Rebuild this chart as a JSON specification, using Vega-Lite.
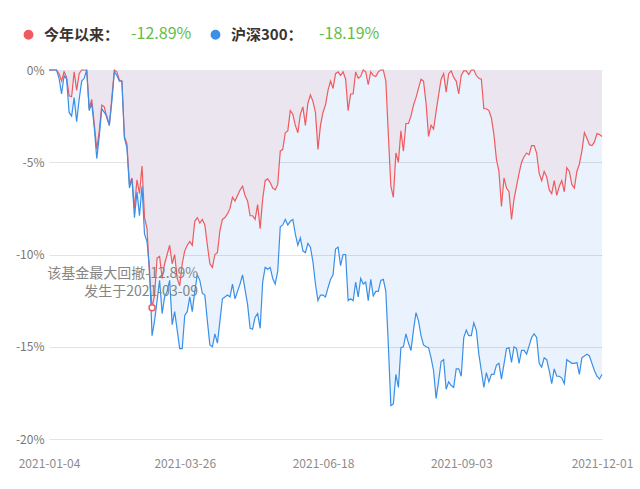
{
  "$schema": "https://vega.github.io/schema/vega-lite/v6.json",
  "width": 553,
  "height": 369,
  "autosize": {"type": "none"},
  "padding": {"left": 49, "top": 70, "right": 38, "bottom": 50},
  "background": "#ffffff",
  "config": {"view": {"stroke": null}, "font": "Noto Sans CJK SC"},
  "data": {"values": [
{"d":"2021-01-04","今年以来":0,"沪深300":0},
{"d":"2021-01-05","今年以来":0,"沪深300":0},
{"d":"2021-01-06","今年以来":0,"沪深300":0},
{"d":"2021-01-07","今年以来":0,"沪深300":0},
{"d":"2021-01-08","今年以来":-0.2,"沪深300":-0.45},
{"d":"2021-01-11","今年以来":-0.6,"沪深300":-1.3},
{"d":"2021-01-12","今年以来":-0.1,"沪深300":-0.3},
{"d":"2021-01-13","今年以来":-0.4,"沪深300":-0.5},
{"d":"2021-01-14","今年以来":-1.4,"沪深300":-2.3},
{"d":"2021-01-15","今年以来":-1.45,"沪深300":-2.5},
{"d":"2021-01-18","今年以来":-0.1,"沪深300":-1.5},
{"d":"2021-01-19","今年以来":-1.1,"沪深300":-2.8},
{"d":"2021-01-20","今年以来":-0.2,"沪深300":-1.6},
{"d":"2021-01-21","今年以来":0,"沪深300":-0.6},
{"d":"2021-01-22","今年以来":0,"沪深300":-0.45},
{"d":"2021-01-25","今年以来":0,"沪深300":0},
{"d":"2021-01-26","今年以来":-2.1,"沪深300":-2.2},
{"d":"2021-01-27","今年以来":-1.6,"沪深300":-1.8},
{"d":"2021-01-28","今年以来":-2.9,"沪深300":-3.1},
{"d":"2021-01-29","今年以来":-4.3,"沪深300":-4.8},
{"d":"2021-02-01","今年以来":-3.3,"沪深300":-3.6},
{"d":"2021-02-02","今年以来":-1.9,"沪深300":-2.1},
{"d":"2021-02-03","今年以来":-2.0,"沪深300":-2.3},
{"d":"2021-02-04","今年以来":-2.6,"沪深300":-2.5},
{"d":"2021-02-05","今年以来":-3.0,"沪深300":-3.0},
{"d":"2021-02-08","今年以来":-1.5,"沪深300":-1.7},
{"d":"2021-02-09","今年以来":0,"沪深300":-0.1},
{"d":"2021-02-10","今年以来":-0.1,"沪深300":-0.3},
{"d":"2021-02-18","今年以来":-0.55,"沪深300":-0.6},
{"d":"2021-02-19","今年以来":-0.6,"沪深300":-0.6},
{"d":"2021-02-22","今年以来":-3.6,"沪深300":-3.7},
{"d":"2021-02-23","今年以来":-4.0,"沪深300":-4.2},
{"d":"2021-02-24","今年以来":-6.2,"沪深300":-6.4},
{"d":"2021-02-25","今年以来":-5.85,"沪深300":-5.9},
{"d":"2021-02-26","今年以来":-7.5,"沪深300":-8.0},
{"d":"2021-03-01","今年以来":-5.95,"沪深300":-6.6},
{"d":"2021-03-02","今年以来":-6.7,"沪深300":-7.9},
{"d":"2021-03-03","今年以来":-5.2,"沪深300":-6.3},
{"d":"2021-03-04","今年以来":-8.0,"沪深300":-8.9},
{"d":"2021-03-05","今年以来":-8.6,"沪深300":-9.3},
{"d":"2021-03-08","今年以来":-11.2,"沪深300":-10.8},
{"d":"2021-03-09","今年以来":-12.89,"沪深300":-14.4},
{"d":"2021-03-10","今年以来":-12.2,"沪深300":-13.6},
{"d":"2021-03-11","今年以来":-10.2,"沪深300":-12.5},
{"d":"2021-03-12","今年以来":-10.1,"沪深300":-11.4},
{"d":"2021-03-15","今年以来":-11.3,"沪深300":-13.2},
{"d":"2021-03-16","今年以来":-10.5,"沪深300":-12.3},
{"d":"2021-03-17","今年以来":-10.0,"沪深300":-12.0},
{"d":"2021-03-18","今年以来":-9.5,"沪深300":-11.4},
{"d":"2021-03-19","今年以来":-10.5,"沪深300":-13.8},
{"d":"2021-03-22","今年以来":-10.0,"沪深300":-13.1},
{"d":"2021-03-23","今年以来":-11.3,"沪深300":-14.1},
{"d":"2021-03-24","今年以来":-11.7,"沪深300":-15.1},
{"d":"2021-03-25","今年以来":-10.5,"沪深300":-15.1},
{"d":"2021-03-26","今年以来":-9.8,"沪深300":-13.3},
{"d":"2021-03-29","今年以来":-9.5,"沪深300":-13.1},
{"d":"2021-03-30","今年以来":-9.3,"沪深300":-12.3},
{"d":"2021-03-31","今年以来":-9.5,"沪深300":-13.1},
{"d":"2021-04-01","今年以来":-8.2,"沪深300":-12.0},
{"d":"2021-04-02","今年以来":-8.0,"沪深300":-11.1},
{"d":"2021-04-06","今年以来":-8.3,"沪深300":-11.4},
{"d":"2021-04-07","今年以来":-8.1,"沪深300":-12.1},
{"d":"2021-04-08","今年以来":-8.4,"沪深300":-12.2},
{"d":"2021-04-09","今年以来":-9.5,"沪深300":-13.6},
{"d":"2021-04-12","今年以来":-10.5,"沪深300":-14.9},
{"d":"2021-04-13","今年以来":-10.7,"沪深300":-15.0},
{"d":"2021-04-14","今年以来":-10.0,"沪深300":-14.3},
{"d":"2021-04-15","今年以来":-9.9,"沪深300":-14.8},
{"d":"2021-04-16","今年以来":-8.7,"沪深300":-13.6},
{"d":"2021-04-19","今年以来":-8.1,"沪深300":-12.4},
{"d":"2021-04-20","今年以来":-8.0,"沪深300":-12.3},
{"d":"2021-04-21","今年以来":-7.8,"沪深300":-12.2},
{"d":"2021-04-22","今年以来":-7.5,"沪深300":-12.3},
{"d":"2021-04-23","今年以来":-6.9,"沪深300":-11.6},
{"d":"2021-04-26","今年以来":-7.1,"沪深300":-12.4},
{"d":"2021-04-27","今年以来":-6.8,"沪深300":-12.0},
{"d":"2021-04-28","今年以来":-6.5,"沪深300":-11.6},
{"d":"2021-04-29","今年以来":-6.3,"沪深300":-11.1},
{"d":"2021-04-30","今年以来":-6.8,"沪深300":-11.9},
{"d":"2021-05-06","今年以来":-7.1,"沪深300":-12.7},
{"d":"2021-05-07","今年以来":-7.9,"沪深300":-14.0},
{"d":"2021-05-10","今年以来":-7.9,"沪深300":-14.05},
{"d":"2021-05-11","今年以来":-8.1,"沪深300":-13.4},
{"d":"2021-05-12","今年以来":-7.3,"沪深300":-13.2},
{"d":"2021-05-13","今年以来":-8.6,"沪深300":-14.0},
{"d":"2021-05-14","今年以来":-7.0,"沪深300":-11.5},
{"d":"2021-05-17","今年以来":-6.0,"沪深300":-10.7},
{"d":"2021-05-18","今年以来":-5.9,"沪深300":-10.8},
{"d":"2021-05-19","今年以来":-6.1,"沪深300":-10.7},
{"d":"2021-05-20","今年以来":-6.4,"沪深300":-11.3},
{"d":"2021-05-21","今年以来":-6.5,"沪深300":-11.6},
{"d":"2021-05-24","今年以来":-6.2,"沪深300":-10.9},
{"d":"2021-05-25","今年以来":-4.4,"沪深300":-8.5},
{"d":"2021-05-26","今年以来":-4.3,"沪深300":-8.4},
{"d":"2021-05-27","今年以来":-3.4,"沪深300":-8.1},
{"d":"2021-05-28","今年以来":-3.3,"沪深300":-8.4},
{"d":"2021-05-31","今年以来":-2.2,"沪深300":-8.2},
{"d":"2021-06-01","今年以来":-2.4,"沪深300":-8.1},
{"d":"2021-06-02","今年以来":-3.0,"沪深300":-8.9},
{"d":"2021-06-03","今年以来":-3.4,"沪深300":-9.5},
{"d":"2021-06-04","今年以来":-2.4,"沪深300":-9.1},
{"d":"2021-06-07","今年以来":-2.0,"沪深300":-9.8},
{"d":"2021-06-08","今年以来":-3.0,"沪深300":-9.9},
{"d":"2021-06-09","今年以来":-1.8,"沪深300":-9.4},
{"d":"2021-06-10","今年以来":-1.35,"沪深300":-9.6},
{"d":"2021-06-11","今年以来":-1.7,"沪深300":-10.4},
{"d":"2021-06-15","今年以来":-2.3,"沪深300":-11.6},
{"d":"2021-06-16","今年以来":-4.3,"沪深300":-12.5},
{"d":"2021-06-17","今年以来":-3.0,"沪深300":-12.2},
{"d":"2021-06-18","今年以来":-2.3,"沪深300":-12.2},
{"d":"2021-06-21","今年以来":-1.9,"沪深300":-12.3},
{"d":"2021-06-22","今年以来":-1.1,"沪深300":-11.8},
{"d":"2021-06-23","今年以来":-0.6,"沪深300":-11.35},
{"d":"2021-06-24","今年以来":-1.0,"沪深300":-11.1},
{"d":"2021-06-25","今年以来":-0.2,"沪深300":-9.7},
{"d":"2021-06-28","今年以来":-0.1,"沪深300":-9.6},
{"d":"2021-06-29","今年以来":-0.3,"沪深300":-10.6},
{"d":"2021-06-30","今年以来":-0.1,"沪深300":-10.0},
{"d":"2021-07-01","今年以来":-0.5,"沪深300":-10.0},
{"d":"2021-07-02","今年以来":-2.2,"沪深300":-12.5},
{"d":"2021-07-05","今年以来":-1.3,"沪深300":-12.4},
{"d":"2021-07-06","今年以来":-1.3,"沪深300":-12.5},
{"d":"2021-07-07","今年以来":-0.1,"沪深300":-11.5},
{"d":"2021-07-08","今年以来":-0.45,"沪深300":-12.3},
{"d":"2021-07-09","今年以来":-0.35,"沪深300":-11.3},
{"d":"2021-07-12","今年以来":0,"沪深300":-11.6},
{"d":"2021-07-13","今年以来":-0.1,"沪深300":-11.5},
{"d":"2021-07-14","今年以来":-0.8,"沪深300":-12.5},
{"d":"2021-07-15","今年以来":-0.1,"沪深300":-11.35},
{"d":"2021-07-16","今年以来":-0.3,"沪深300":-12.25},
{"d":"2021-07-19","今年以来":-0.35,"沪深300":-12.0},
{"d":"2021-07-20","今年以来":-0.1,"沪深300":-12.0},
{"d":"2021-07-21","今年以来":0,"沪深300":-11.4},
{"d":"2021-07-22","今年以来":0,"沪深300":-11.35},
{"d":"2021-07-23","今年以来":-0.6,"沪深300":-12.0},
{"d":"2021-07-26","今年以来":-3.5,"沪深300":-14.9},
{"d":"2021-07-27","今年以来":-6.3,"沪深300":-18.19},
{"d":"2021-07-28","今年以来":-6.9,"沪深300":-18.1},
{"d":"2021-07-29","今年以来":-4.5,"沪深300":-16.5},
{"d":"2021-07-30","今年以来":-5.0,"沪深300":-17.2},
{"d":"2021-08-02","今年以来":-3.3,"沪深300":-15.05},
{"d":"2021-08-03","今年以来":-4.4,"沪深300":-15.0},
{"d":"2021-08-04","今年以来":-2.9,"沪深300":-14.3},
{"d":"2021-08-05","今年以来":-2.9,"沪深300":-14.8},
{"d":"2021-08-06","今年以来":-2.5,"沪深300":-15.2},
{"d":"2021-08-09","今年以来":-1.9,"沪深300":-14.1},
{"d":"2021-08-10","今年以来":-1.5,"沪深300":-13.15},
{"d":"2021-08-11","今年以来":-1.0,"沪深300":-13.6},
{"d":"2021-08-12","今年以来":-0.5,"沪深300":-14.4},
{"d":"2021-08-13","今年以来":-0.6,"沪深300":-14.9},
{"d":"2021-08-16","今年以来":-1.8,"沪深300":-15.0},
{"d":"2021-08-17","今年以来":-3.6,"沪深300":-15.05},
{"d":"2021-08-18","今年以来":-3.0,"沪深300":-15.6},
{"d":"2021-08-19","今年以来":-3.2,"沪深300":-16.3},
{"d":"2021-08-20","今年以来":-2.25,"沪深300":-17.8},
{"d":"2021-08-23","今年以来":-1.35,"沪深300":-16.85},
{"d":"2021-08-24","今年以来":-0.5,"沪深300":-15.8},
{"d":"2021-08-25","今年以来":-0.2,"沪深300":-15.7},
{"d":"2021-08-26","今年以来":-1.2,"沪深300":-17.3},
{"d":"2021-08-27","今年以来":-0.2,"沪深300":-16.9},
{"d":"2021-08-30","今年以来":-0.05,"沪深300":-17.1},
{"d":"2021-08-31","今年以来":-0.4,"沪深300":-17.2},
{"d":"2021-09-01","今年以来":-0.6,"沪深300":-16.2},
{"d":"2021-09-02","今年以来":-1.3,"沪深300":-16.2},
{"d":"2021-09-03","今年以来":-0.3,"沪深300":-16.6},
{"d":"2021-09-06","今年以来":-0.05,"沪深300":-14.5},
{"d":"2021-09-07","今年以来":-0.05,"沪深300":-14.1},
{"d":"2021-09-08","今年以来":-0.25,"沪深300":-14.4},
{"d":"2021-09-09","今年以来":0,"沪深300":-14.4},
{"d":"2021-09-10","今年以来":0,"沪深300":-13.7},
{"d":"2021-09-13","今年以来":-0.3,"沪深300":-14.1},
{"d":"2021-09-14","今年以来":-0.45,"沪深300":-15.4},
{"d":"2021-09-15","今年以来":-0.5,"沪深300":-16.3},
{"d":"2021-09-16","今年以来":-2.1,"沪深300":-17.2},
{"d":"2021-09-17","今年以来":-2.1,"沪深300":-16.4},
{"d":"2021-09-22","今年以来":-2.2,"沪深300":-16.9},
{"d":"2021-09-23","今年以来":-2.6,"沪深300":-16.5},
{"d":"2021-09-24","今年以来":-3.5,"沪深300":-16.5},
{"d":"2021-09-27","今年以来":-4.85,"沪深300":-16.0},
{"d":"2021-09-28","今年以来":-5.5,"沪深300":-15.9},
{"d":"2021-09-29","今年以来":-7.4,"沪深300":-16.75},
{"d":"2021-09-30","今年以来":-5.85,"沪深300":-15.95},
{"d":"2021-10-08","今年以来":-6.4,"沪深300":-15.1},
{"d":"2021-10-11","今年以来":-6.6,"沪深300":-15.05},
{"d":"2021-10-12","今年以来":-8.1,"沪深300":-15.85},
{"d":"2021-10-13","今年以来":-7.0,"沪深300":-15.0},
{"d":"2021-10-14","今年以来":-6.3,"沪深300":-15.1},
{"d":"2021-10-15","今年以来":-5.6,"沪深300":-15.9},
{"d":"2021-10-18","今年以来":-5.0,"沪深300":-15.2},
{"d":"2021-10-19","今年以来":-4.7,"沪深300":-15.2},
{"d":"2021-10-20","今年以来":-4.5,"沪深300":-15.4},
{"d":"2021-10-21","今年以来":-4.6,"沪深300":-14.95},
{"d":"2021-10-22","今年以来":-4.1,"沪深300":-14.5},
{"d":"2021-10-25","今年以来":-4.1,"沪深300":-14.3},
{"d":"2021-10-26","今年以来":-4.5,"沪深300":-14.5},
{"d":"2021-10-27","今年以来":-5.6,"沪深300":-15.9},
{"d":"2021-10-28","今年以来":-6.0,"沪深300":-16.1},
{"d":"2021-10-29","今年以来":-5.5,"沪深300":-15.6},
{"d":"2021-11-01","今年以来":-5.8,"沪深300":-15.7},
{"d":"2021-11-02","今年以来":-6.5,"沪深300":-16.3},
{"d":"2021-11-03","今年以来":-6.7,"沪深300":-17.0},
{"d":"2021-11-04","今年以来":-6.0,"沪深300":-16.2},
{"d":"2021-11-05","今年以来":-6.8,"沪深300":-16.6},
{"d":"2021-11-08","今年以来":-6.3,"沪深300":-16.6},
{"d":"2021-11-09","今年以来":-6.0,"沪深300":-16.7},
{"d":"2021-11-10","今年以来":-6.6,"沪深300":-17.0},
{"d":"2021-11-11","今年以来":-5.3,"沪深300":-15.7},
{"d":"2021-11-12","今年以来":-5.5,"沪深300":-15.8},
{"d":"2021-11-15","今年以来":-6.2,"沪深300":-15.9},
{"d":"2021-11-16","今年以来":-6.4,"沪深300":-15.9},
{"d":"2021-11-17","今年以来":-5.5,"沪深300":-15.85},
{"d":"2021-11-18","今年以来":-5.1,"沪深300":-16.5},
{"d":"2021-11-19","今年以来":-4.4,"沪深300":-15.6},
{"d":"2021-11-22","今年以来":-3.4,"沪深300":-15.5},
{"d":"2021-11-23","今年以来":-3.7,"沪深300":-15.4},
{"d":"2021-11-24","今年以来":-4.05,"沪深300":-15.5},
{"d":"2021-11-25","今年以来":-4.1,"沪深300":-15.9},
{"d":"2021-11-26","今年以来":-3.9,"沪深300":-16.3},
{"d":"2021-11-29","今年以来":-3.45,"沪深300":-16.6},
{"d":"2021-11-30","今年以来":-3.5,"沪深300":-16.75},
{"d":"2021-12-01","今年以来":-3.6,"沪深300":-16.5}
  ]},
  "encoding": {
    "x": {
      "field": "d", "type": "ordinal",
      "scale": {"type": "point", "padding": 0},
      "axis": {
        "values": ["2021-01-04","2021-03-26","2021-06-18","2021-09-03","2021-12-01"],
        "labelAngle": 0, "domain": false, "ticks": false, "grid": false,
        "labelPadding": 19, "labelColor": "#8c8c8c", "labelFontSize": 12,
        "labelFont": "Noto Sans CJK SC", "title": null
      }
    }
  },
  "layer": [
    {
      "transform": [{"fold": ["今年以来", "沪深300"], "as": ["t", "w"]}],
      "mark": {"type": "area", "interpolate": "linear"},
      "encoding": {
        "y": {"field": "w", "type": "quantitative", "stack": null,
              "scale": {"domain": [-20, 0], "nice": false},
              "axis": {"values": [-20, -15, -10, -5, 0], "labelExpr": "datum.value + '%'",
                       "grid": true, "gridColor": "#e3e3e3", "domain": false, "ticks": false,
                       "labelPadding": 5, "labelColor": "#777777", "labelFontSize": 12,
                       "labelFont": "Noto Sans CJK SC", "title": null}},
        "fill": {"field": "t", "type": "nominal",
                 "scale": {"range": ["#fff0ef", "rgba(47,140,240,0.1)"]},
                 "legend": {"orient": "none", "legendX": 66, "legendY": -44, "direction": "horizontal",
                            "title": null, "symbolSize": 0, "symbolOpacity": 0, "symbolStrokeWidth": 0,
                            "labelOffset": 0, "padding": 0, "columnPadding": 111,
                            "labelExpr": "datum.label == '今年以来' ? '-12.89%' : '-18.19%'",
                            "labelColor": "#64bd45", "labelFontSize": 16, "labelFont": "Noto Sans CJK SC",
                            "labelFontWeight": "normal"}}
      }
    },
    {
      "transform": [{"fold": ["今年以来", "沪深300"], "as": ["s", "v"]}],
      "mark": {"type": "line", "strokeWidth": 1.2, "interpolate": "linear"},
      "encoding": {
        "y": {"field": "v", "type": "quantitative"},
        "color": {"field": "s", "type": "nominal",
                  "scale": {"range": ["#ef5b5f", "#3a8fe8"]},
                  "legend": {"orient": "none", "legendX": -28, "legendY": -43, "direction": "horizontal",
                             "title": null, "symbolType": "circle", "symbolSize": 70, "padding": 0,
                             "labelOffset": 8, "columnPadding": 88,
                             "labelExpr": "datum.label + '：'",
                             "labelColor": "#3a3330", "labelFontSize": 15, "labelFontWeight": "bold",
                             "labelFont": "Noto Sans CJK SC",
                             "encode": {"symbols": {"update": {"fill": {"scale": "color", "field": "value"}, "stroke": {"value": "transparent"}}}}}}
      }
    },
    {
      "data": {"values": [{"d": "2021-03-09", "v": -12.89, "label": ["该基金最大回撤-12.89%", "发生于2021-03-09"]}]},
      "mark": {"type": "text", "align": "right", "baseline": "middle", "dx": 46, "dy": -34,
               "fontSize": 14, "lineHeight": 18, "color": "#858585", "font": "Noto Sans CJK SC"},
      "encoding": {
        "y": {"field": "v", "type": "quantitative"},
        "text": {"field": "label"}
      }
    },
    {
      "data": {"values": [{"d": "2021-03-09", "v": -12.89}]},
      "mark": {"type": "point", "shape": "circle", "filled": true, "fill": "#ffffff",
               "stroke": "#ef5b5f", "strokeWidth": 1.5, "size": 36, "opacity": 1},
      "encoding": {
        "y": {"field": "v", "type": "quantitative"}
      }
    }
  ]
}
